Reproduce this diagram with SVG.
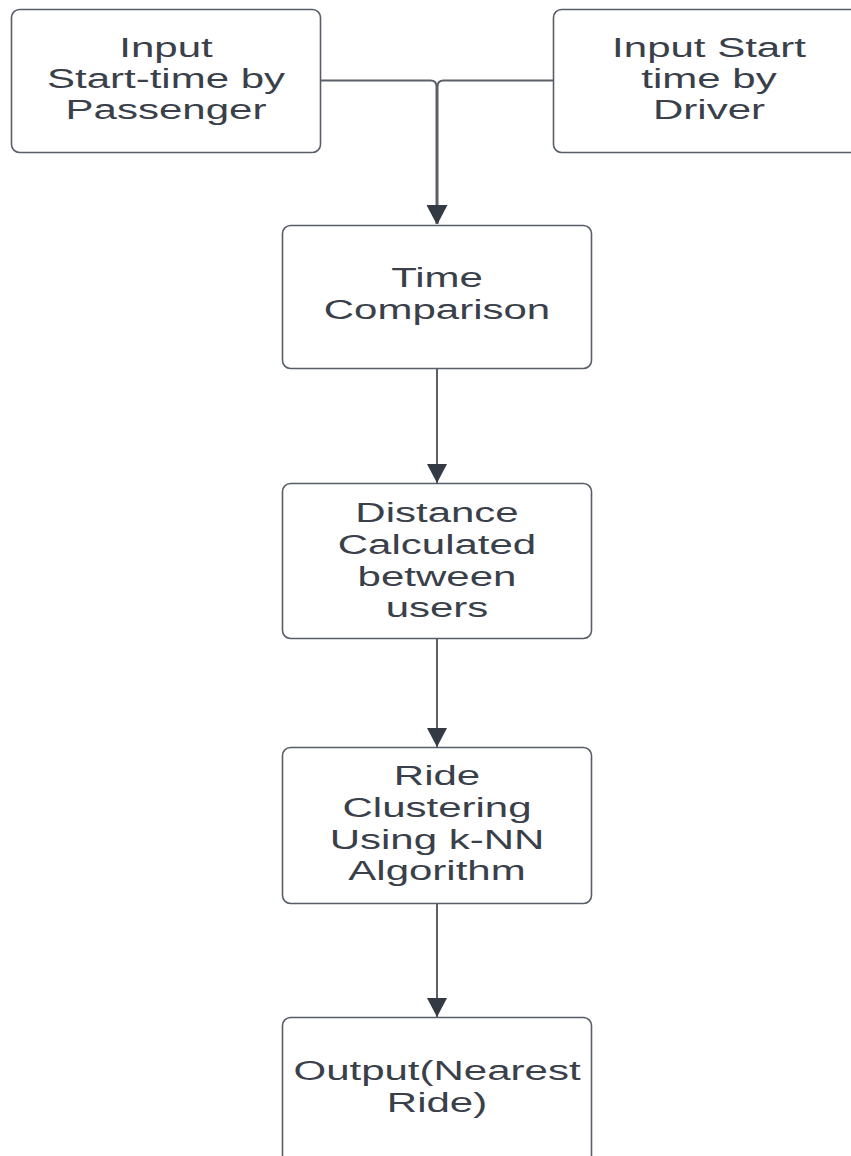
<svg xmlns="http://www.w3.org/2000/svg" width="851" height="1156" viewBox="0 0 851 1156">
  <style>
    .box { fill: #ffffff; stroke: #585e68; stroke-width: 1.6; }
    .lbl { font-family: "Liberation Sans", Arial, sans-serif; font-size: 28px; fill: #3a404a; text-anchor: middle; }
    .conn { fill: none; stroke: #5a5f68; stroke-width: 2; }
  </style>
  <defs>
    <marker id="arr" markerUnits="userSpaceOnUse" markerWidth="20" markerHeight="20" refX="19" refY="10" orient="auto">
      <path d="M0,0 L19,10 L0,20 Z" fill="#343a43"/>
    </marker>
  </defs>
  <rect width="851" height="1156" fill="#ffffff"/>

  <g id="connectors">
    <path class="conn" d="M321,80.5 H430.5 Q436.5,80.5 436.5,86.5 V224" marker-end="url(#arr)"/>
    <path class="conn" d="M553,80.5 H443.5 Q437.5,80.5 437.5,86.5 V224" marker-end="url(#arr)"/>
    <path class="conn" d="M437,368 V483" marker-end="url(#arr)"/>
    <path class="conn" d="M437,638 V747" marker-end="url(#arr)"/>
    <path class="conn" d="M437,903 V1017" marker-end="url(#arr)"/>
  </g>

  <g id="node-passenger">
    <rect class="box" x="11.5" y="9.5" width="309" height="143" rx="8"/>
    <g transform="translate(166,0) scale(1.5,1)">
      <text class="lbl" x="0" y="57">Input</text>
      <text class="lbl" x="0" y="88">Start-time by</text>
      <text class="lbl" x="0" y="119">Passenger</text>
    </g>
  </g>

  <g id="node-driver">
    <rect class="box" x="553.5" y="9.5" width="310" height="143" rx="8"/>
    <g transform="translate(709,0) scale(1.5,1)">
      <text class="lbl" x="0" y="57">Input Start</text>
      <text class="lbl" x="0" y="88">time by</text>
      <text class="lbl" x="0" y="119">Driver</text>
    </g>
  </g>

  <g id="node-time">
    <rect class="box" x="282.5" y="225.5" width="309" height="143" rx="8"/>
    <g transform="translate(437,0) scale(1.5,1)">
      <text class="lbl" x="0" y="287">Time</text>
      <text class="lbl" x="0" y="319">Comparison</text>
    </g>
  </g>

  <g id="node-distance">
    <rect class="box" x="282.5" y="483.5" width="309" height="155" rx="8"/>
    <g transform="translate(437,0) scale(1.5,1)">
      <text class="lbl" x="0" y="522">Distance</text>
      <text class="lbl" x="0" y="554">Calculated</text>
      <text class="lbl" x="0" y="586">between</text>
      <text class="lbl" x="0" y="617">users</text>
    </g>
  </g>

  <g id="node-cluster">
    <rect class="box" x="282.5" y="747.5" width="309" height="156" rx="8"/>
    <g transform="translate(437,0) scale(1.5,1)">
      <text class="lbl" x="0" y="785">Ride</text>
      <text class="lbl" x="0" y="817">Clustering</text>
      <text class="lbl" x="0" y="849">Using k-NN</text>
      <text class="lbl" x="0" y="880">Algorithm</text>
    </g>
  </g>

  <g id="node-output">
    <rect class="box" x="282.5" y="1017.5" width="309" height="160" rx="8"/>
    <g transform="translate(437,0) scale(1.5,1)">
      <text class="lbl" x="0" y="1080">Output(Nearest</text>
      <text class="lbl" x="0" y="1112">Ride)</text>
    </g>
  </g>
</svg>
